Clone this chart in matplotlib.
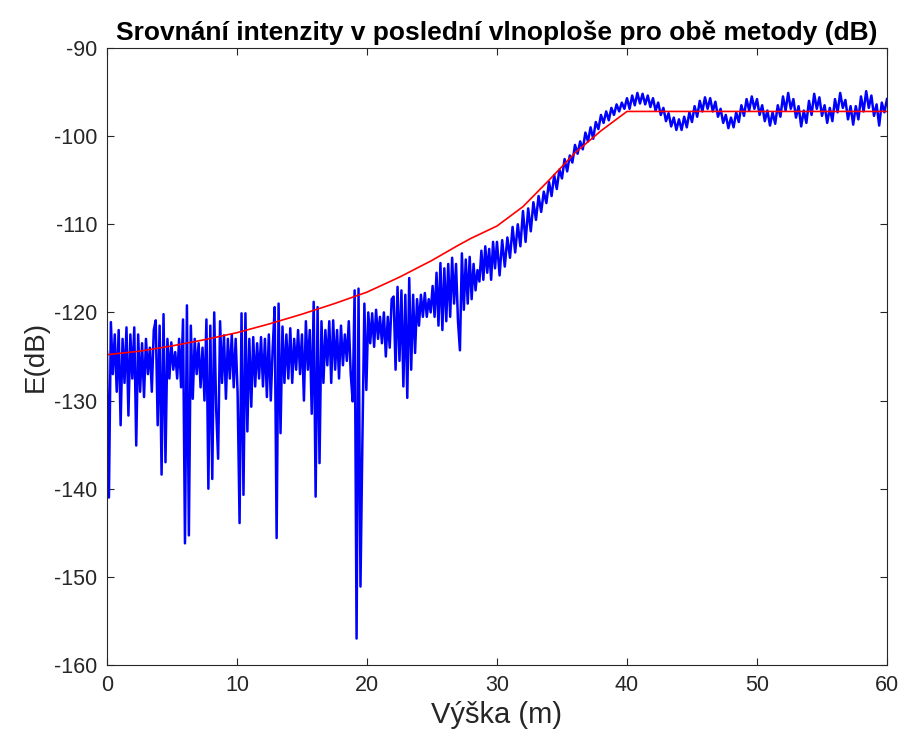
# srovnani intenzity v posledni vlnoplose - dve metody (dB)
import numpy as np
import matplotlib
matplotlib.use('Agg')
import matplotlib.pyplot as plt

plt.rcParams['font.family'] = ['Liberation Sans', 'DejaVu Sans']
plt.rcParams['axes.unicode_minus'] = False

# red curve (smooth method)
red_x = [0, 2.5, 5, 7.5, 10, 12.5, 15, 17.5, 20, 22.5, 25, 27, 28, 30, 32, 34, 36, 38, 40, 60]
red_y = [-124.8, -124.4, -123.8, -123.1, -122.3, -121.3, -120.2, -119.0, -117.7, -116.0,
         -114.1, -112.4, -111.6, -110.2, -108.0, -105.0, -101.9, -99.4, -97.2, -97.2]

# blue curve, 0 - 29.85 m, sampled every 0.15 m
blue_y_near = [
    -124.5, -141.0, -121.1, -127.0, -122.5, -129.0, -122.0, -132.8, -123.0, -128.0,
    -121.7, -131.7, -122.5, -127.5, -121.7, -135.1, -122.5, -129.0, -123.5, -129.6,
    -123.0, -127.0, -124.0, -129.0, -122.0, -120.9, -132.8, -121.5, -138.4, -120.2,
    -137.0, -123.0, -127.5, -123.4, -126.5, -124.5, -127.5, -123.0, -128.5, -120.8,
    -146.2, -119.2, -145.3, -121.5, -129.8, -123.0, -127.0, -123.5, -128.5, -124.0,
    -130.0, -120.8, -140.0, -121.5, -138.9, -120.0, -131.0, -136.6, -121.0, -128.0,
    -122.6, -129.8, -123.0, -127.5, -122.5, -128.5, -123.0, -129.2, -143.9, -120.1,
    -140.7, -120.1, -133.5, -123.0, -130.7, -122.8, -128.4, -123.5, -127.5, -122.8,
    -128.4, -123.0, -129.6, -122.5, -130.0, -124.0, -119.4, -145.6, -119.0, -133.7,
    -121.6, -128.0, -122.5, -127.5, -121.8, -128.0, -123.0, -126.5, -122.0, -127.0,
    -122.5, -130.0, -121.0, -126.5, -122.0, -131.5, -118.8, -140.9, -119.4, -137.1,
    -121.0, -128.0, -122.0, -126.0, -121.0, -128.0, -120.9, -126.5, -122.0, -127.5,
    -121.5, -126.0, -122.5, -125.5, -121.0, -127.0, -130.1, -117.5, -157.0, -117.3,
    -151.1, -134.3, -119.0, -128.8, -120.0, -123.5, -120.1, -123.9, -119.7, -123.0,
    -120.5, -123.5, -120.0, -125.0, -120.5, -124.0, -118.5, -118.2, -126.5, -117.1,
    -125.5, -117.5, -128.4, -118.0, -129.7, -116.1, -126.5, -118.0, -124.6, -118.5,
    -121.5, -118.0, -120.5, -117.8, -120.5, -118.5, -120.0, -117.0, -120.5, -115.5,
    -121.5, -114.4, -122.0, -115.0, -121.0, -114.5, -120.5, -113.8, -119.0, -114.5,
    -121.0, -124.3, -113.3, -119.7, -114.0, -119.0, -113.7, -118.5, -114.5, -117.5,
    -115.2, -116.5, -113.0, -116.3, -112.5, -115.5, -112.8, -116.3, -112.0, -115.0,
]

# blue curve, 30 - 60 m, sampled every 0.2 m
blue_y_far = [
    -112.0, -115.8, -111.8, -114.8, -111.5, -113.8, -110.3, -113.2, -110.0, -112.5,
    -108.5, -112.0, -108.2, -110.8, -107.5, -109.5, -106.8, -108.6, -106.3, -107.6,
    -105.2, -106.8, -104.4, -106.0, -103.8, -104.8, -102.6, -104.0, -102.2, -103.0,
    -101.0, -102.0, -100.6, -101.5, -99.6, -100.6, -99.0, -100.3, -98.4, -99.2,
    -97.6, -98.5, -97.2, -98.2, -96.8, -97.6, -96.4, -97.2, -96.2, -96.9,
    -95.7, -96.9, -95.4, -96.5, -95.1, -96.3, -95.2, -96.4, -95.4, -96.7,
    -95.7, -97.1, -96.2, -97.6, -96.8, -98.3, -97.4, -98.9, -97.9, -99.3,
    -98.1, -99.3, -97.8, -99.0, -97.3, -98.4, -96.6, -97.8, -96.0, -97.2,
    -95.6, -96.9, -95.7, -97.2, -96.1, -97.8, -96.9, -98.5, -97.6, -99.1,
    -97.9, -99.0, -97.3, -98.4, -96.5, -97.7, -95.8, -97.1, -95.5, -96.9,
    -95.8, -97.6, -96.5, -98.3, -97.1, -98.8, -97.3, -98.6, -96.5, -97.8,
    -95.5, -97.1, -95.1, -96.9, -95.8, -97.9, -96.6, -98.9, -97.1, -98.5,
    -96.0, -97.6, -95.2, -96.9, -95.6, -97.7, -96.5, -98.5, -96.8, -98.3,
    -95.8, -97.3, -95.1, -96.8, -95.9, -98.1, -96.6, -98.7, -96.6, -98.1,
    -95.5, -97.2, -94.9, -96.8, -95.4, -97.7, -96.4, -98.8, -96.2, -97.3,
    -95.8,
]

blue_x_near = np.arange(len(blue_y_near)) * 0.15
blue_x_far = 30 + np.arange(len(blue_y_far)) * 0.2
blue_x = np.concatenate([blue_x_near, blue_x_far])
blue_y = np.concatenate([blue_y_near, blue_y_far])

xticks = [0, 10, 20, 30, 40, 50, 60]
yticks = [-160, -150, -140, -130, -120, -110, -100, -90]

axcol = '#262626'

fig = plt.figure(figsize=(9.05, 7.46), dpi=100)
ax = fig.add_axes([0.1182, 0.1086, 0.8619, 0.8271])

ax.plot(blue_x, blue_y, color=(0, 0, 1), linewidth=1.8)
ax.plot(red_x, red_y, color=(1, 0, 0), linewidth=1.2)

ax.set_xlim(0, 60)
ax.set_ylim(-160, -90)
ax.set_xticks(xticks)
ax.set_yticks(yticks)
ax.tick_params(direction='in', top=True, right=True, length=5, width=0.8,
               colors=axcol, labelsize=15.5, pad=7)
for s in ax.spines.values():
    s.set_color(axcol)
    s.set_linewidth(0.8)

ax.set_title('Srovnání intenzity v poslední vlnoploše pro obě metody (dB)',
             fontsize=19, fontweight='bold', color='black', pad=6)
ax.set_xlabel('Výška (m)', fontsize=21, color=axcol, labelpad=4)
ax.set_ylabel('E(dB)', fontsize=20, color=axcol, labelpad=4)

fig.savefig('out.png', dpi=100)
